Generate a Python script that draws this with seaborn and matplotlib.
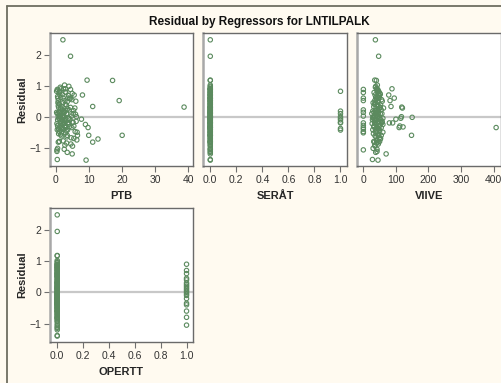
import numpy as np
import pandas as pd
import matplotlib
matplotlib.use("Agg")
import matplotlib.pyplot as plt
import seaborn as sns
from matplotlib.lines import Line2D

# residuals and regressor values, one entry per observation
residual = [
    2.48, 1.95, 1.18, 1.17, 0.52, 0.31, -0.60, -0.35, -1.40, -1.38,
    -0.72, -0.82, -0.60, -0.35, -0.25, 0.33, 0.70, -0.08, -1.15, -1.20,
    0.90, 0.60, -0.02, 0.28, -0.30, -0.05, 0.00, -0.20, -0.20, -0.33,
    0.88, 0.78, 0.52, 0.22, 0.14, -0.20, -0.28, -0.40, -0.48, -0.52,
    -1.07, 0.02, -0.35, 0.60, -1.02, -1.12,
    0.05, -0.12, 0.35, 0.62, -0.45, 0.15, -0.30, 0.80, -0.62, 0.22,
    -0.05, 0.48, -0.78, 0.95, -0.18, 0.10, -0.88, 0.72, -0.25, 0.40,
    1.02, -0.55, 0.28, -0.40, 0.58, -0.08, 0.18, -0.70, 0.85, -0.15,
    0.45, -0.35, 0.68, -0.92, 0.02, -0.50, 0.32, -0.22, 0.75, -0.65,
    0.12, 0.90, -0.82, 0.55, -0.02, 0.25, -0.48, 0.65, -0.28, 0.08,
    -0.85, 0.42, -0.10, 0.78, -0.58, 0.20, -0.38, 0.98, -0.75, 0.30,
    -0.20, 0.60, -0.68, 0.15, -0.95, 0.50, -0.42, 0.88, -0.12, 0.38,
    -0.52, 0.70, -0.32, 0.00, -0.80, 0.52, -0.60, 0.10, -0.15, 0.82,
    0.82, 0.18, 0.10, 0.00, -0.05, -0.10, -0.18, -0.20, -0.38, -0.43,
    0.90, 0.70, 0.60, 0.45, 0.40, 0.30, 0.25, 0.20, 0.15, 0.10,
    0.05, 0.00, -0.05, -0.10, -0.20, -0.35, -0.40, -0.60, -0.80, -1.05,
]

ptb = [
    2.2, 4.5, 9.5, 17.2, 19.2, 38.8, 20.1, 3.1, 9.2, 0.5,
    12.8, 11.2, 10.0, 9.8, 9.0, 11.2, 8.1, 7.8, 3.5, 5.0,
    3.0, 4.2, 2.5, 1.5, 5.5, 1.0, 6.3, 2.0, 4.0, 2.8,
    0.5, 1.2, 0.8, 2.0, 0.3, 1.5, 0.6, 0.9, 1.1, 3.0,
    0.4, 2.5, 1.8, 0.7, 0.6, 0.4,
    1.2, 2.1, 0.8, 1.5, 3.2, 2.6, 0.6, 2.9, 1.8, 4.1,
    1.0, 3.5, 2.3, 1.4, 5.2, 0.5, 4.6, 2.0, 3.8, 1.1,
    2.7, 0.9, 5.8, 2.4, 4.4, 3.0, 1.7, 5.5, 0.7, 6.2,
    2.2, 1.3, 3.9, 2.8, 4.8, 6.5, 1.9, 0.4, 5.0, 3.4,
    2.5, 1.6, 0.8, 4.9, 1.4, 3.6, 5.9, 0.6, 2.9, 6.0,
    3.3, 1.0, 4.3, 3.1, 1.5, 5.4, 2.0, 4.0, 6.4, 0.9,
    3.7, 2.3, 4.7, 1.2, 5.1, 6.1, 0.5, 4.5, 2.6, 3.2,
    1.8, 5.6, 4.2, 2.1, 1.1, 2.8, 6.6, 3.4, 1.6, 0.3,
    1.2, 2.5, 3.3, 0.8, 4.1, 1.9, 5.2, 2.7, 0.9, 3.6,
    2.4, 1.3, 3.7, 0.7, 2.9, 4.5, 1.6, 3.1, 0.9, 5.3,
    2.2, 1.4, 3.8, 0.6, 2.7, 4.9, 1.9, 3.5, 1.1, 2.6,
]

viive = [
    37, 47, 35, 40, 82, 118, 148, 408, 45, 28,
    52, 45, 55, 110, 60, 85, 78, 100, 38, 70,
    88, 95, 150, 120, 112, 115, 117, 80, 90, 122,
    0, 0, 0, 0, 0, 0, 0, 0, 0, 0,
    0, 0, 0, 0, 30, 42,
    40, 35, 45, 38, 50, 42, 33, 48, 36, 55,
    30, 44, 41, 37, 58, 26, 46, 52, 39, 34,
    43, 31, 62, 47, 40, 36, 29, 53, 45, 57,
    38, 42, 49, 35, 44, 60, 32, 27, 51, 39,
    46, 41, 34, 56, 30, 48, 37, 43, 50, 45,
    40, 36, 54, 33, 47, 39, 44, 38, 42, 52,
    35, 46, 49, 41, 36, 58, 29, 44, 37, 53,
    40, 47, 32, 43, 50, 35, 45, 39, 48, 42,
    45, 38, 52, 30, 60, 42, 35, 55, 48, 40,
    41, 36, 48, 30, 44, 52, 38, 46, 33, 57,
    40, 35, 50, 28, 43, 55, 37, 47, 32, 42,
]

serat = [
    0, 0, 0, 0, 0, 0, 0, 0, 0, 0,
    0, 0, 0, 0, 0, 0, 0, 0, 0, 0,
    0, 0, 0, 0, 0, 0, 0, 0, 0, 0,
    0, 0, 0, 0, 0, 0, 0, 0, 0, 0,
    0, 0, 0, 0, 0, 0,
    0, 0, 0, 0, 0, 0, 0, 0, 0, 0,
    0, 0, 0, 0, 0, 0, 0, 0, 0, 0,
    0, 0, 0, 0, 0, 0, 0, 0, 0, 0,
    0, 0, 0, 0, 0, 0, 0, 0, 0, 0,
    0, 0, 0, 0, 0, 0, 0, 0, 0, 0,
    0, 0, 0, 0, 0, 0, 0, 0, 0, 0,
    0, 0, 0, 0, 0, 0, 0, 0, 0, 0,
    0, 0, 0, 0, 0, 0, 0, 0, 0, 0,
    1, 1, 1, 1, 1, 1, 1, 1, 1, 1,
    0, 0, 0, 0, 0, 0, 0, 0, 0, 0,
    0, 0, 0, 0, 0, 0, 0, 0, 0, 0,
]

opertt = [
    0, 0, 0, 0, 0, 0, 0, 0, 0, 0,
    0, 0, 0, 0, 0, 0, 0, 0, 0, 0,
    0, 0, 0, 0, 0, 0, 0, 0, 0, 0,
    0, 0, 0, 0, 0, 0, 0, 0, 0, 0,
    0, 0, 0, 0, 0, 0,
    0, 0, 0, 0, 0, 0, 0, 0, 0, 0,
    0, 0, 0, 0, 0, 0, 0, 0, 0, 0,
    0, 0, 0, 0, 0, 0, 0, 0, 0, 0,
    0, 0, 0, 0, 0, 0, 0, 0, 0, 0,
    0, 0, 0, 0, 0, 0, 0, 0, 0, 0,
    0, 0, 0, 0, 0, 0, 0, 0, 0, 0,
    0, 0, 0, 0, 0, 0, 0, 0, 0, 0,
    0, 0, 0, 0, 0, 0, 0, 0, 0, 0,
    0, 0, 0, 0, 0, 0, 0, 0, 0, 0,
    1, 1, 1, 1, 1, 1, 1, 1, 1, 1,
    1, 1, 1, 1, 1, 1, 1, 1, 1, 1,
]

title = "Residual by Regressors for LNTILPALK"
regressors = ["PTB", "SERÅT", "VIIVE", "OPERTT"]
x_ticks = {
    "PTB": [0, 10, 20, 30, 40],
    "SERÅT": [0.0, 0.2, 0.4, 0.6, 0.8, 1.0],
    "VIIVE": [0, 100, 200, 300, 400],
    "OPERTT": [0.0, 0.2, 0.4, 0.6, 0.8, 1.0],
}
x_limits = {
    "PTB": (-1.7, 41.5),
    "SERÅT": (-0.056, 1.05),
    "VIIVE": (-19.5, 423),
    "OPERTT": (-0.056, 1.05),
}
y_ticks = [-1, 0, 1, 2]
y_limits = (-1.59, 2.7)

BG = "#fffaf0"
GREEN = "#5b8a5e"


def style_axis(ax, name, show_y):
    ax.set_xlim(x_limits[name])
    ax.set_ylim(y_limits)
    ax.set_xticks(x_ticks[name])
    if isinstance(x_ticks[name][0], float):
        ax.set_xticklabels([f"{t:.1f}" for t in x_ticks[name]])
    ax.set_xlabel(name, fontsize=8, fontweight="bold", labelpad=4)
    if show_y:
        ax.set_yticks(y_ticks)
        ax.set_ylabel("Residual", fontsize=8, fontweight="bold", labelpad=1)
    else:
        ax.set_yticks([])
        ax.set_ylabel("")
    ax.tick_params(axis="both", direction="out", length=4, width=0.8,
                   color="#707070", labelsize=7.5, labelcolor="#333333", pad=2.5)
    for side in ["top", "right", "bottom"]:
        ax.spines[side].set_color("#6a6a6a")
        ax.spines[side].set_linewidth(1.0)
    ax.spines["left"].set_color("#a8a8a8")
    ax.spines["left"].set_linewidth(1.8)
    ax.set_facecolor("white")


def main():
    df = pd.DataFrame({"Residual": residual, "PTB": ptb, "SERÅT": serat,
                       "VIIVE": viive, "OPERTT": opertt})

    sns.set_style("ticks")
    plt.rcParams["font.family"] = ["Liberation Sans", "DejaVu Sans"]

    fig = plt.figure(figsize=(5.02, 3.83), dpi=100, facecolor=BG)
    W, H = 502, 383

    def box(x0, y0, x1, y1):
        return [x0 / W, 1 - y1 / H, (x1 - x0) / W, (y1 - y0) / H]

    axes = [
        fig.add_axes(box(50, 33, 193, 166)),
        fig.add_axes(box(203, 33, 347, 166)),
        fig.add_axes(box(357, 33, 501, 166)),
        fig.add_axes(box(50, 208, 193, 342)),
    ]

    for i, (ax, name) in enumerate(zip(axes, regressors)):
        ax.axhline(0, color="#c8c8c8", linewidth=1.6, zorder=1)
        sns.scatterplot(data=df, x=name, y="Residual", ax=ax, marker="o",
                        s=10, facecolor="none", edgecolor=GREEN,
                        linewidth=0.8, zorder=3)
        style_axis(ax, name, show_y=(i in (0, 3)))

    fig.text(259 / W, 1 - 22 / H, title, ha="center", va="center",
             fontsize=8.5, fontweight="bold", color="#111111")

    # outer frame of the output window
    fig.add_artist(Line2D([7 / W, 7 / W], [0, 1 - 6 / H], transform=fig.transFigure,
                          color="#6e6e60", linewidth=1.3))
    fig.add_artist(Line2D([7 / W, 1], [1 - 6 / H, 1 - 6 / H], transform=fig.transFigure,
                          color="#6e6e60", linewidth=1.3))

    fig.savefig("out.png", dpi=100, facecolor=BG)


if __name__ == "__main__":
    main()
